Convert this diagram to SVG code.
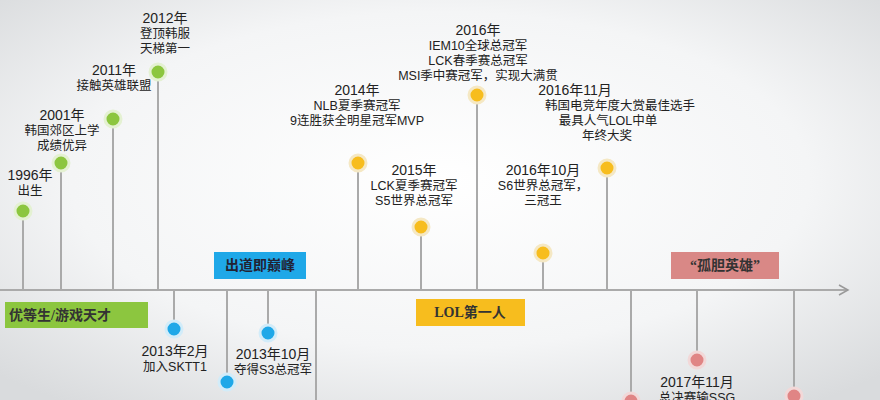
<svg xmlns="http://www.w3.org/2000/svg" width="880" height="400" viewBox="0 0 880 400">
<defs>
<radialGradient id="bg" cx="0.5" cy="0.45" r="0.7">
<stop offset="0" stop-color="#ffffff"/><stop offset="0.6" stop-color="#f4f5f6"/><stop offset="1" stop-color="#d9dbdd"/>
</radialGradient>
<marker id="arr" markerWidth="12" markerHeight="12" refX="10" refY="6" orient="auto" markerUnits="userSpaceOnUse">
<path d="M1,1 L10,6 L1,11" fill="none" stroke="#999" stroke-width="1.5"/>
</marker>
</defs>
<style>
.ln{stroke:#aaa;stroke-width:2;fill:none}
.t{font-family:"Liberation Sans","Noto Sans CJK SC",sans-serif;font-size:12.5px;fill:#222;text-anchor:middle}
.y{font-size:14px}
.g{fill:#8cc63f;stroke:#e4f1d2;stroke-width:3}
.b{fill:#1fa8e8;stroke:#d2ecf9;stroke-width:3}
.o{fill:#f7bd1e;stroke:#f5e8c4;stroke-width:3}
.r{fill:#e08585;stroke:#f2d8d8;stroke-width:3}
.lab{font-family:"Liberation Serif","Noto Sans CJK SC",serif;font-size:14px;font-weight:bold;text-anchor:middle}
</style>
<rect width="880" height="400" fill="url(#bg)"/>
<g id="connectors">
<line class="ln" x1="0" y1="290" x2="848" y2="290" marker-end="url(#arr)"/>
<line class="ln" x1="23" y1="215" x2="23" y2="290"/>
<line class="ln" x1="61" y1="168" x2="61" y2="290"/>
<line class="ln" x1="113" y1="124" x2="113" y2="290"/>
<line class="ln" x1="158" y1="77" x2="158" y2="290"/>
<line class="ln" x1="174" y1="290" x2="174" y2="325"/>
<line class="ln" x1="227" y1="290" x2="227" y2="377"/>
<line class="ln" x1="268" y1="290" x2="268" y2="328"/>
<line class="ln" x1="316" y1="290" x2="316" y2="400"/>
<line class="ln" x1="358" y1="168" x2="358" y2="290"/>
<line class="ln" x1="421" y1="232" x2="421" y2="290"/>
<line class="ln" x1="477" y1="100" x2="477" y2="290"/>
<line class="ln" x1="543" y1="258" x2="543" y2="290"/>
<line class="ln" x1="607" y1="173" x2="607" y2="290"/>
<line class="ln" x1="631" y1="290" x2="631" y2="396"/>
<line class="ln" x1="697" y1="290" x2="697" y2="356"/>
<line class="ln" x1="794" y1="290" x2="794" y2="392"/>
</g>
<g id="n1996"><circle class="g" cx="23" cy="211" r="8"/><text class="t" x="30" y="180"><tspan class="y">1996年</tspan><tspan x="30" dy="15">出生</tspan></text></g>
<g id="n2001"><circle class="g" cx="61" cy="163" r="8"/><text class="t" x="62" y="120"><tspan class="y">2001年</tspan><tspan x="62" dy="15">韩国郊区上学</tspan><tspan x="62" dy="15">成绩优异</tspan></text></g>
<g id="n2011"><circle class="g" cx="113" cy="119" r="8"/><text class="t" x="114" y="75"><tspan class="y">2011年</tspan><tspan x="114" dy="15">接触英雄联盟</tspan></text></g>
<g id="n2012"><circle class="g" cx="158" cy="72" r="8"/><text class="t" x="165" y="23"><tspan class="y">2012年</tspan><tspan x="165" dy="15">登顶韩服</tspan><tspan x="165" dy="15">天梯第一</tspan></text></g>
<g id="n201302"><circle class="b" cx="174" cy="329" r="8"/><text class="t" x="175" y="356"><tspan class="y">2013年2月</tspan><tspan x="175" dy="15">加入SKTT1</tspan></text></g>
<g id="n2013x"><circle class="b" cx="227" cy="382" r="8"/></g>
<g id="n201310"><circle class="b" cx="268" cy="333" r="8"/><text class="t" x="273" y="359"><tspan class="y">2013年10月</tspan><tspan x="273" dy="15">夺得S3总冠军</tspan></text></g>
<g id="n2014"><circle class="o" cx="358" cy="163" r="8"/><text class="t" x="357" y="95"><tspan class="y">2014年</tspan><tspan x="357" dy="15">NLB夏季赛冠军</tspan><tspan x="357" dy="15">9连胜获全明星冠军MVP</tspan></text></g>
<g id="n2015"><circle class="o" cx="421" cy="227" r="8"/><text class="t" x="414" y="175"><tspan class="y">2015年</tspan><tspan x="414" dy="15">LCK夏季赛冠军</tspan><tspan x="414" dy="15">S5世界总冠军</tspan></text></g>
<g id="n2016"><circle class="o" cx="477" cy="95" r="8"/><text class="t" x="478" y="35"><tspan class="y">2016年</tspan><tspan x="478" dy="15">IEM10全球总冠军</tspan><tspan x="478" dy="15">LCK春季赛总冠军</tspan><tspan x="478" dy="15">MSI季中赛冠军，实现大满贯</tspan></text></g>
<g id="n201610"><circle class="o" cx="543" cy="253" r="8"/><text class="t" x="543" y="175"><tspan class="y">2016年10月</tspan><tspan x="543" dy="15">S6世界总冠军，</tspan><tspan x="543" dy="15">三冠王</tspan></text></g>
<g id="n201611"><circle class="o" cx="607" cy="168" r="8"/><text class="t" x="575" y="95"><tspan class="y">2016年11月</tspan></text><text class="t" x="620" y="110">韩国电竞年度大赏最佳选手<tspan x="608" dy="15">最具人气LOL中单</tspan><tspan x="607" dy="15">年终大奖</tspan></text></g>
<g id="n2017a"><circle class="r" cx="631" cy="401" r="8"/></g>
<g id="n201711"><circle class="r" cx="697" cy="360" r="8"/><text class="t" x="697" y="387"><tspan class="y">2017年11月</tspan><tspan x="697" dy="15">总决赛输SSG</tspan></text></g>
<g id="n2017b"><circle class="r" cx="794" cy="396" r="8"/></g>
<g id="l1"><rect x="5" y="302" width="143" height="26" fill="#8cc63f"/><text class="lab" x="60" y="320" fill="#333">优等生/游戏天才</text></g>
<g id="l2"><rect x="214" y="252" width="92" height="27" fill="#1fa8e8"/><text class="lab" x="260" y="270" fill="#223">出道即巅峰</text></g>
<g id="l3"><rect x="416" y="299" width="109" height="27" fill="#f7bd1e"/><text class="lab" x="470" y="317" fill="#333">LOL第一人</text></g>
<g id="l4"><rect x="671" y="252" width="108" height="27" fill="#d98886"/><text class="lab" x="725" y="270" fill="#333">“孤胆英雄”</text></g>
</svg>
